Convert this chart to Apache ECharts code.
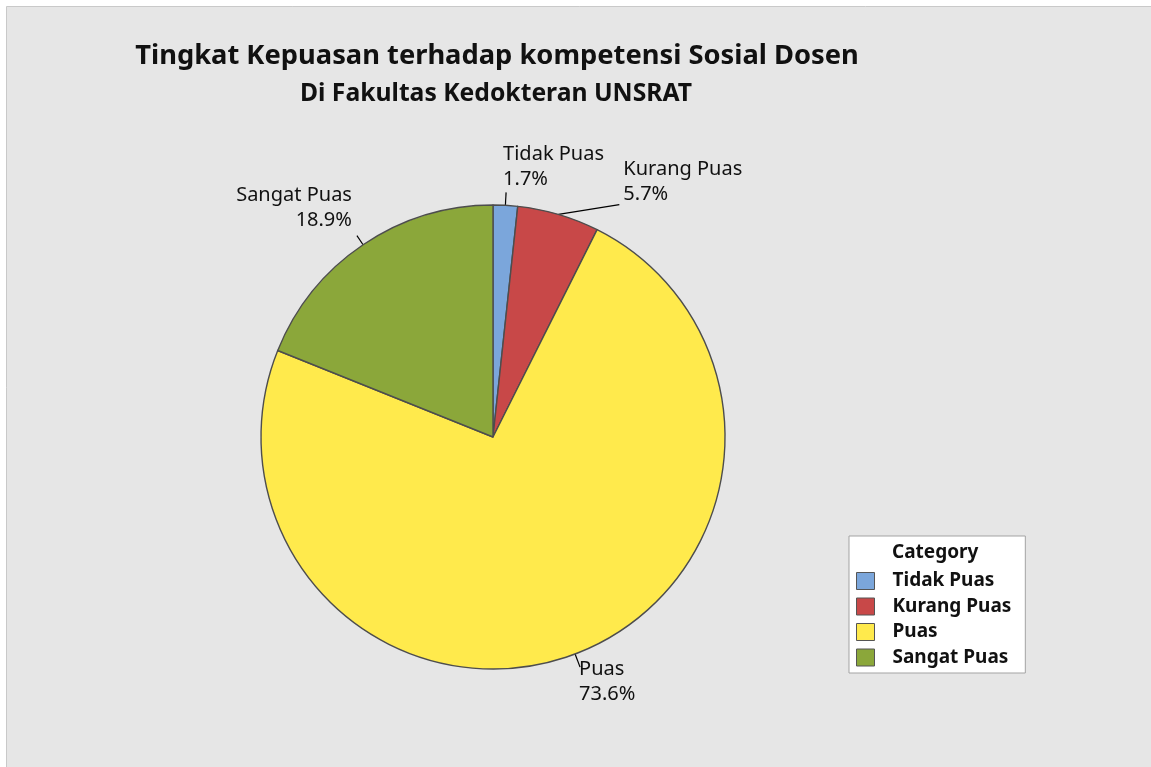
<!DOCTYPE html>
<html>
<head>
<meta charset="utf-8">
<title>Tingkat Kepuasan</title>
<script src="https://cdn.jsdelivr.net/npm/echarts@6.0.0/dist/echarts.min.js"></script>
<style>
  html, body { margin: 0; padding: 0; background: #fff; }
  #main { width: 1151px; height: 767px; }
</style>
</head>
<body>
<div id="main"></div>
<script>
// data
var categories = ['Tidak Puas', 'Kurang Puas', 'Puas', 'Sangat Puas'];
var percents = [1.7, 5.7, 73.6, 18.9];
var colors = ['#7ba6db', '#c84848', '#ffea4c', '#8ba73a'];

// label tweaks (line lengths + nudge of the text block)
var lineLen = [13, 3, 14, 11];
var lineLen2 = [0, 60, 0, 0];
var nudge = [[-8, -26], [-1, -30], [-6, 15], [0, -28]];
var lineTilt = [0, -7, 0, 0]; // lift the end of the leader line

var myChart = echarts.init(document.getElementById('main'));

var pieData = categories.map(function (name, i) {
  return {
    name: name,
    value: percents[i],
    itemStyle: { color: colors[i] },
    labelLine: { length: lineLen[i], length2: lineLen2[i] }
  };
});

var option = {
  backgroundColor: '#fff',
  animation: false,
  graphic: [
    {
      type: 'rect',
      z: -10,
      silent: true,
      shape: { x: 6.5, y: 6.5, width: 1160, height: 780 },
      style: { fill: '#e6e6e6', stroke: '#c9c9c9', lineWidth: 1 }
    }
  ],
  title: [
    {
      text: 'Tingkat Kepuasan terhadap kompetensi Sosial Dosen',
      left: 492,
      top: 38,
      textAlign: 'center',
      textStyle: { fontFamily: 'Noto Sans', fontSize: 27.3, fontWeight: 'bold', color: '#111' }
    },
    {
      text: 'Di Fakultas Kedokteran UNSRAT',
      left: 491,
      top: 76,
      textAlign: 'center',
      textStyle: { fontFamily: 'Noto Sans', fontSize: 24.7, fontWeight: 'bold', color: '#111' }
    },
    {
      text: 'Category',
      left: 887,
      top: 538,
      z: 10,
      textStyle: { fontFamily: 'Noto Sans', fontSize: 19, fontWeight: 'bold', color: '#111' }
    }
  ],
  legend: {
    orient: 'vertical',
    left: 849,
    top: 536,
    data: categories,
    icon: 'rect',
    itemWidth: 18,
    itemHeight: 17,
    itemGap: 6.5,
    padding: [35.5, 14, 6, 7],
    backgroundColor: '#fff',
    borderColor: '#a3a3a3',
    borderWidth: 1,
    borderRadius: 0,
    itemStyle: { borderColor: '#555', borderWidth: 1 },
    textStyle: {
      fontFamily: 'Noto Sans',
      fontSize: 19,
      fontWeight: 'bold',
      color: '#111',
      padding: [0, 0, 0, 13]
    }
  },
  series: [
    {
      type: 'pie',
      center: [493, 437],
      radius: 232,
      startAngle: 90,
      clockwise: true,
      avoidLabelOverlap: false,
      itemStyle: { borderColor: '#4d4d4d', borderWidth: 1.4 },
      emphasis: { disabled: true },
      label: {
        show: true,
        position: 'outside',
        fontFamily: 'Noto Sans',
        fontSize: 20,
        lineHeight: 25,
        color: '#111',
        formatter: function (p) {
          return p.name + '\n' + p.value.toFixed(1) + '%';
        }
      },
      labelLine: {
        show: true,
        lineStyle: { color: '#000', width: 1.2 }
      },
      labelLayout: function (params) {
        var r = params.labelRect;
        var i = params.dataIndex;
        var d = nudge[i];
        var right = i === 3;
        var pts = params.labelLinePoints;
        if (lineTilt[i] && pts) {
          var last = pts[pts.length - 1];
          pts = [pts[0], [last[0], last[1] + lineTilt[i]]];
        }
        return {
          x: (right ? r.x + r.width : r.x) + d[0],
          y: r.y + d[1],
          align: right ? 'right' : 'left',
          verticalAlign: 'top',
          labelLinePoints: pts
        };
      },
      data: pieData
    }
  ]
};

myChart.setOption(option);
</script>
</body>
</html>
